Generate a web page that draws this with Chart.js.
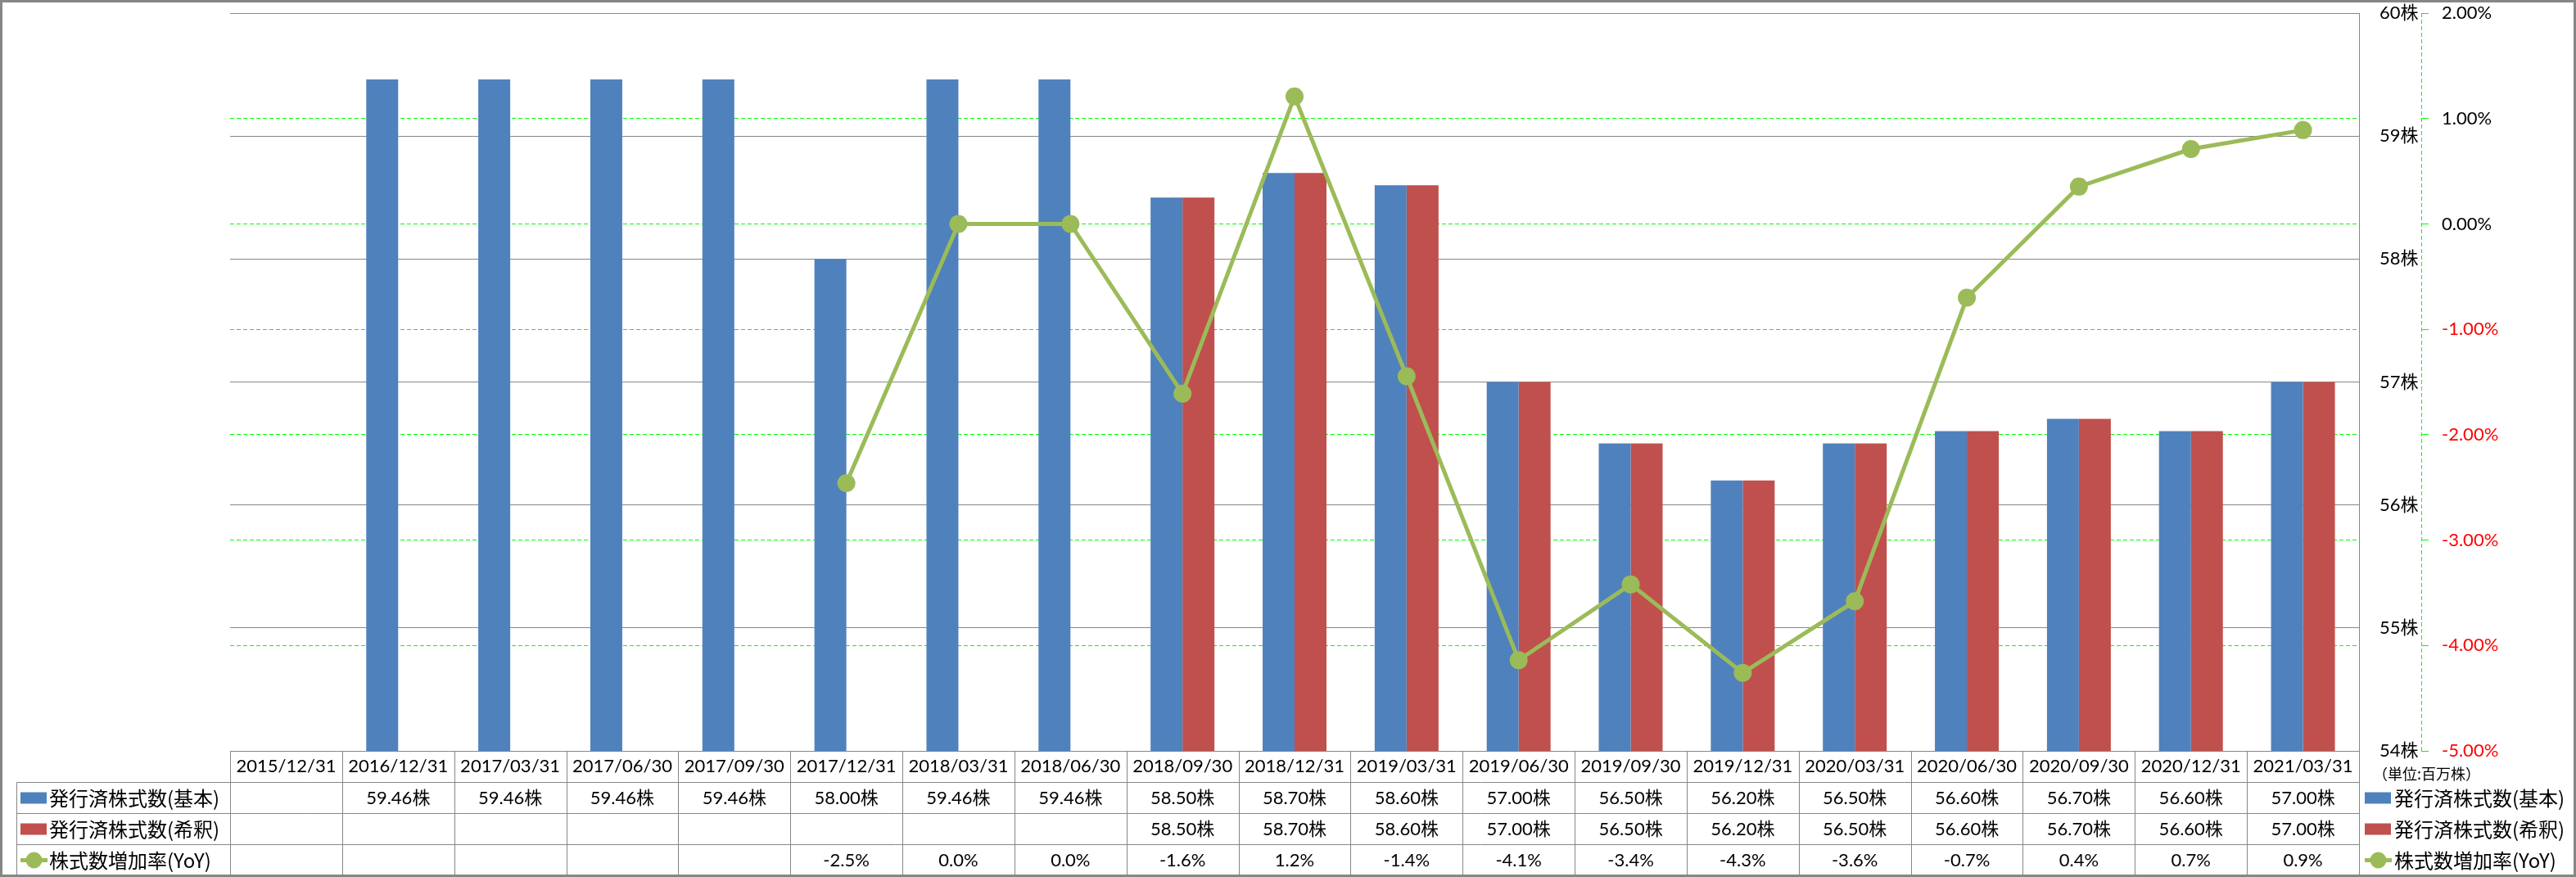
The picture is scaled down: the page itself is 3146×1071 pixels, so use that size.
<!DOCTYPE html>
<html>
<head>
<meta charset="utf-8">
<script src="https://cdn.jsdelivr.net/npm/chart.js@4.4.1/dist/chart.umd.min.js"></script>
<style>
  html, body { margin: 0; padding: 0; background: #fff; }
  #wrap { width: 3146px; height: 1071px; }
</style>
</head>
<body>
<div id="wrap"><canvas id="chart" width="3146" height="1071"></canvas></div>
<script>
var dateLabels = ['2015/12/31', '2016/12/31', '2017/03/31', '2017/06/30', '2017/09/30', '2017/12/31',
    '2018/03/31', '2018/06/30', '2018/09/30', '2018/12/31', '2019/03/31', '2019/06/30', '2019/09/30',
    '2019/12/31', '2020/03/31', '2020/06/30', '2020/09/30', '2020/12/31', '2021/03/31']
var sharesBasic = [null, 59.46, 59.46, 59.46, 59.46, 58.00, 59.46, 59.46, 58.50, 58.70, 58.60,
    57.00, 56.50, 56.20, 56.50, 56.60, 56.70, 56.60, 57.00]
var sharesDiluted = [null, null, null, null, null, null, null, null, 58.50, 58.70, 58.60,
    57.00, 56.50, 56.20, 56.50, 56.60, 56.70, 56.60, 57.00]
var sharesYoY = [null, null, null, null, null, -2.46, 0.0, 0.0, -1.61, 1.21, -1.446,
    -4.14, -3.42, -4.26, -3.58, -0.70, 0.354, 0.71, 0.89]
var seriesNames = ['発行済株式数(基本)', '発行済株式数(希釈)', '株式数増加率(YoY)']
var unitLabel = '（単位:百万株）'

var numFont = { family: 'Lato, "Noto Sans CJK JP"', size: 22 }
var gridGray = '#868686'
var dashGreen = '#00ff00'

function line(ctx, x1, y1, x2, y2) {
    ctx.beginPath()
    ctx.moveTo(x1, y1)
    ctx.lineTo(x2, y2)
    ctx.stroke()
}

function legendMark(ctx, ds, x, y) {
    if (ds.type === 'line') {
        ctx.strokeStyle = ds.borderColor
        ctx.lineWidth = 5
        line(ctx, x, y, x + 33, y)
        ctx.fillStyle = ds.borderColor
        ctx.beginPath()
        ctx.arc(x + 16.5, y, 10, 0, Math.PI * 2)
        ctx.fill()
    } else {
        ctx.fillStyle = ds.backgroundColor
        ctx.fillRect(x, y - 7, 32, 14)
    }
}

var tablePlugin = {
    id: 'tablePlugin',
    afterDraw: function (chart) {
        var ctx = chart.ctx
        var xs = chart.scales.x
        var area = chart.chartArea
        var rowH = 38
        var top = Math.round(area.bottom) + 0.5
        var left = Math.round(area.left) + 0.5
        var right = Math.round(area.right) + 0.5
        var colW = xs.getPixelForValue(1) - xs.getPixelForValue(0)
        var legendLeft = 20.5
        var datasets = chart.data.datasets

        ctx.save()
        // dashed axis line of the percent scale
        var y2 = chart.scales.y2
        ctx.strokeStyle = dashGreen
        ctx.lineWidth = 1
        ctx.setLineDash([5, 3])
        line(ctx, Math.round(y2.left) + 0.5, area.top, Math.round(y2.left) + 0.5, area.bottom)
        ctx.setLineDash([])

        // table grid
        ctx.strokeStyle = gridGray
        line(ctx, left, top, right, top)
        for (var r = 1; r <= 4; r++) {
            line(ctx, legendLeft, top + r * rowH, right, top + r * rowH)
        }
        for (var i = 0; i <= dateLabels.length; i++) {
            var vx = Math.round(area.left + i * colW) + 0.5
            line(ctx, vx, top, vx, top + 4 * rowH)
        }
        line(ctx, legendLeft, top + rowH, legendLeft, top + 4 * rowH)
        line(ctx, right, area.top, right, top + 4 * rowH)

        // table values
        ctx.fillStyle = '#000'
        ctx.textAlign = 'center'
        ctx.textBaseline = 'middle'
        ctx.font = numFont.size + 'px ' + numFont.family
        var rows = [sharesBasic, sharesDiluted, sharesYoY]
        for (var r = 0; r < 3; r++) {
            var cy = top + (r + 1.5) * rowH
            for (var i = 0; i < dateLabels.length; i++) {
                var v = rows[r][i]
                if (v === null) continue
                var txt = r < 2 ? v.toFixed(2) + '株' : v.toFixed(1) + '%'
                ctx.fillText(txt, xs.getPixelForValue(i), cy)
            }
        }

        // legend column in the table and legend at the right
        ctx.textAlign = 'left'
        ctx.font = '24px "Noto Sans CJK JP"'
        for (var r = 0; r < 3; r++) {
            var cy = top + (r + 1.5) * rowH
            legendMark(ctx, datasets[r], 25, cy)
            ctx.fillStyle = '#000'
            ctx.fillText(seriesNames[r], 60, cy)
            legendMark(ctx, datasets[r], 2888, cy)
            ctx.fillStyle = '#000'
            ctx.fillText(seriesNames[r], 2924, cy)
        }
        ctx.font = '18px "Noto Sans CJK JP"'
        ctx.fillText(unitLabel, 2898, top + 28)

        // outer frame
        ctx.strokeStyle = gridGray
        ctx.strokeRect(0.5, 0.5, chart.width - 1, chart.height - 1)
        ctx.restore()
    }
}

var ctx = document.getElementById('chart').getContext('2d')
var chart = new Chart(ctx, {
    data: {
        labels: dateLabels,
        datasets: [{
            type: 'bar',
            label: seriesNames[0],
            data: sharesBasic,
            backgroundColor: '#4F81BD',
            yAxisID: 'y',
            order: 1
        }, {
            type: 'bar',
            label: seriesNames[1],
            data: sharesDiluted,
            backgroundColor: '#C0504D',
            yAxisID: 'y',
            order: 1
        }, {
            type: 'line',
            label: seriesNames[2],
            data: sharesYoY,
            borderColor: '#9BBB59',
            backgroundColor: '#9BBB59',
            borderWidth: 5,
            pointRadius: 11,
            pointBackgroundColor: '#9BBB59',
            pointBorderColor: '#9BBB59',
            pointBorderWidth: 0,
            tension: 0,
            yAxisID: 'y2',
            order: 0
        }]
    },
    options: {
        responsive: false,
        animation: false,
        devicePixelRatio: 1,
        layout: { padding: { left: 281, top: 16, right: 0, bottom: 0 } },
        datasets: {
            bar: { barPercentage: 1, categoryPercentage: 0.57 }
        },
        plugins: {
            legend: { display: false },
            tooltip: { enabled: false }
        },
        scales: {
            x: {
                offset: true,
                grid: { display: false, drawTicks: false },
                border: { display: false },
                ticks: { color: '#000', font: numFont, padding: 6, maxRotation: 0, autoSkip: false },
                afterFit: function (scale) { scale.height = 154 }
            },
            y: {
                position: 'right',
                min: 54,
                max: 60,
                ticks: {
                    stepSize: 1,
                    color: '#000',
                    font: numFont,
                    padding: 0,
                    callback: function (v) { return v + '株' }
                },
                grid: {
                    color: gridGray,
                    lineWidth: 1,
                    drawTicks: true,
                    tickLength: 25,
                    tickColor: 'rgba(0,0,0,0)'
                },
                border: { display: true, color: gridGray, width: 1 },
                afterFit: function (scale) { scale.width = 76 }
            },
            y2: {
                position: 'right',
                min: -5,
                max: 2,
                ticks: {
                    stepSize: 1,
                    font: numFont,
                    padding: 0,
                    color: function (c) { return c.tick.value < 0 ? '#ff0000' : '#000' },
                    callback: function (v) { return v.toFixed(2) + '%' }
                },
                grid: {
                    color: function (c) {
                        return (c.tick.value === 2 || c.tick.value === -5) ? 'rgba(0,0,0,0)' : dashGreen
                    },
                    lineWidth: 1,
                    drawTicks: true,
                    tickLength: 25,
                    tickColor: dashGreen,
                    tickBorderDash: [9, 100]
                },
                border: { display: false, dash: [5, 3] },
                afterFit: function (scale) { scale.width = 189 }
            }
        }
    },
    plugins: [tablePlugin]
})
</script>
</body>
</html>
